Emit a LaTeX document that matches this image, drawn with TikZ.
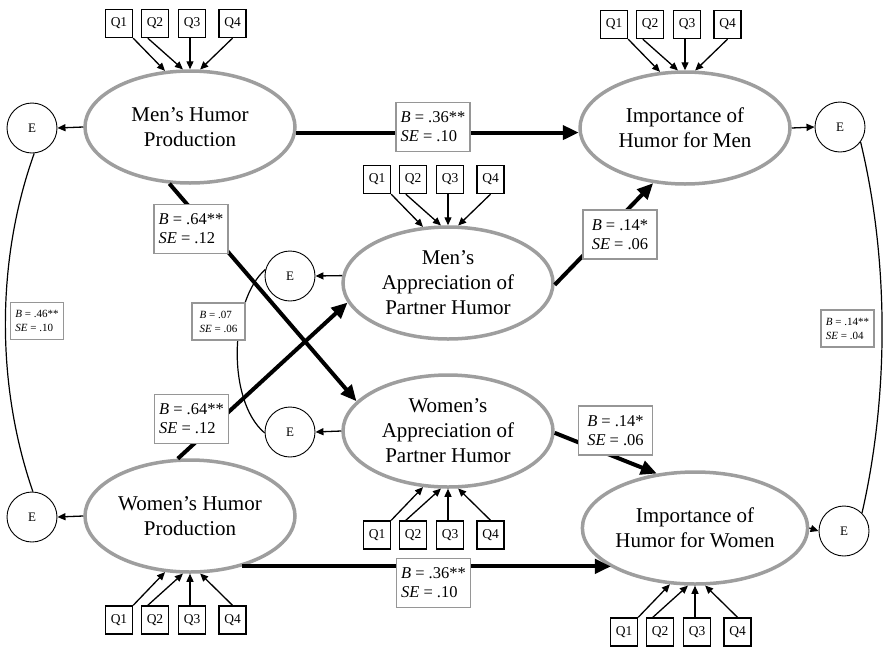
\documentclass[tikz,border=0pt]{standalone}
\usepackage{fontspec}
\setmainfont{Liberation Serif}
\usetikzlibrary{arrows.meta,shapes.geometric,calc}
\definecolor{ellgray}{RGB}{158,158,158}
\definecolor{boxgray}{RGB}{150,150,150}
\tikzset{
 latent/.style={ellipse, draw=ellgray, line width=3.5pt, fill=white, minimum width=210pt, minimum height=112pt, inner sep=0pt, align=center, font=\fontsize{21}{25}\selectfont},
 qbox/.style={draw, line width=1.4pt, minimum width=27pt, minimum height=28pt, inner sep=0pt, font=\fontsize{13.5}{15}\selectfont},
 errc/.style={circle, draw, line width=0.9pt, minimum size=50pt, inner sep=0pt, font=\fontsize{13}{15}\selectfont},
 qarrow/.style={line width=1.3pt, -{Triangle[length=8pt,width=7pt]}},
 patharrow/.style={line width=4pt, -{Triangle[length=16pt,width=14pt]}},
 covcurve/.style={line width=1.2pt},
 coef/.style={draw=boxgray, line width=1.6pt, fill=white, minimum width=74pt, minimum height=49pt, inner sep=3pt, align=left, font=\fontsize{16.5}{19}\selectfont},
 smallcoef/.style={draw=boxgray, line width=1.4pt, fill=white, minimum width=53pt, minimum height=37pt, inner sep=2pt, align=left, font=\fontsize{11}{14}\selectfont},
}
\newcommand{\QsAbove}[1]{%
  \node[qbox] (#1q1) at ($(#1)+(-71,-103.5)$) {Q1};
  \node[qbox] (#1q2) at ($(#1)+(-35,-103.5)$) {Q2};
  \node[qbox] (#1q3) at ($(#1)+(2,-103.5)$) {Q3};
  \node[qbox] (#1q4) at ($(#1)+(42.5,-103.5)$) {Q4};
  \draw[qarrow] (#1q1.south east) -- (#1.114);
  \draw[qarrow] ([xshift=7pt]#1q2.south west) -- (#1.97);
  \draw[qarrow] ([xshift=-2pt]#1q3.south) -- (#1.90);
  \draw[qarrow] (#1q4.south) -- (#1.80);
}
\newcommand{\QsBelow}[1]{%
  \node[qbox] (#1q1) at ($(#1)+(-71,104)$) {Q1};
  \node[qbox] (#1q2) at ($(#1)+(-35,104)$) {Q2};
  \node[qbox] (#1q3) at ($(#1)+(2,104)$) {Q3};
  \node[qbox] (#1q4) at ($(#1)+(42.5,104)$) {Q4};
  \draw[qarrow] (#1q1.north east) -- (#1.246);
  \draw[qarrow] ([xshift=7pt]#1q2.north west) -- (#1.263);
  \draw[qarrow] ([xshift=-2pt]#1q3.north) -- (#1.270);
  \draw[qarrow] (#1q4.north) -- (#1.280);
}
\begin{document}
\begin{tikzpicture}[x=1pt,y=-1pt]
\useasboundingbox (0,0) rectangle (888,646);

% latent variables
\node[latent] (MHP) at (190,127) {Men’s Humor\\Production};
\node[latent] (IHM) at (685,128) {Importance of\\Humor for Men};
\node[latent] (MAPH) at (448,283) {Men’s\\Appreciation of\\Partner Humor};
\node[latent] (WAPH) at (448,431) {Women’s\\Appreciation of\\Partner Humor};
\node[latent] (WHP) at (190,516) {Women’s Humor\\Production};
\node[latent] (IHW) at (695,528) {Importance of\\Humor for Women};

% error terms
\node[errc] (EMH) at (32,128) {E};
\node[errc] (EWH) at (32,517) {E};
\node[errc] (EMA) at (290,276) {E};
\node[errc] (EWA) at (290,432) {E};
\node[errc] (EIM) at (840,127) {E};
\node[errc] (EIW) at (844,531) {E};

% indicators
\QsAbove{MHP}
\QsAbove{IHM}
\QsAbove{MAPH}
\QsBelow{WHP}
\QsBelow{WAPH}
\QsBelow{IHW}

% residual arrows
\draw[qarrow] (MHP.west) -- (EMH.east);
\draw[qarrow] (WHP.west) -- (EWH.east);
\draw[qarrow] (MAPH.176) -- (EMA.east);
\draw[qarrow] (WAPH.west) -- (EWA.east);
\draw[qarrow] (IHM.east) -- (EIM.west);
\draw[qarrow] (IHW.east) -- (EIW.west);

% covariance curves
\draw[covcurve] (EMH.-85) .. controls (-4,260) and (-4,385) .. (EWH.88);
\draw[covcurve] (EIM.-36) .. controls (889,260) and (889,395) .. (EIW.45);
\draw[covcurve] (EMA.165) .. controls (230,300) and (226,400) .. (EWA.182);

% structural paths
\draw[patharrow] (MHP.-3) -- (MHP.-3 -| IHM.183);
\draw[patharrow] (WHP.-44) -- (WHP.-44 -| IHW.205);
\draw[patharrow] (MHP.250) -- (WAPH.162);
\draw[patharrow] (WHP.102) -- (MAPH.191);
\draw[patharrow] (MAPH.-1) -- (IHM.240);
\draw[patharrow] (WAPH.-1) -- (IHW.125);

% coefficient labels
\node[coef] (c1) at (433,127) {\textit{B} = .36**\\\textit{SE} = .10};
\node[coef] (c2) at (433.5,583) {\textit{B} = .36**\\\textit{SE} = .10};
\node[coef] (c3) at (191,229) {\textit{B} = .64**\\\textit{SE} = .12};
\node[coef] (c4) at (191.5,419) {\textit{B} = .64**\\\textit{SE} = .12};
\node[coef] (c5) at (620,234.5) {\textit{B} = .14*\\\textit{SE} = .06};
\node[coef] (c6) at (615.5,430.5) {\textit{B} = .14*\\\textit{SE} = .06};
\node[smallcoef] (c7) at (37,321) {\textit{B} = .46**\\\textit{SE} = .10};
\node[smallcoef] (c8) at (218.5,321.5) {\textit{B} = .07\\\textit{SE} = .06};
\node[smallcoef] (c9) at (847.5,328.5) {\textit{B} = .14**\\\textit{SE} = .04};
\end{tikzpicture}
\end{document}
